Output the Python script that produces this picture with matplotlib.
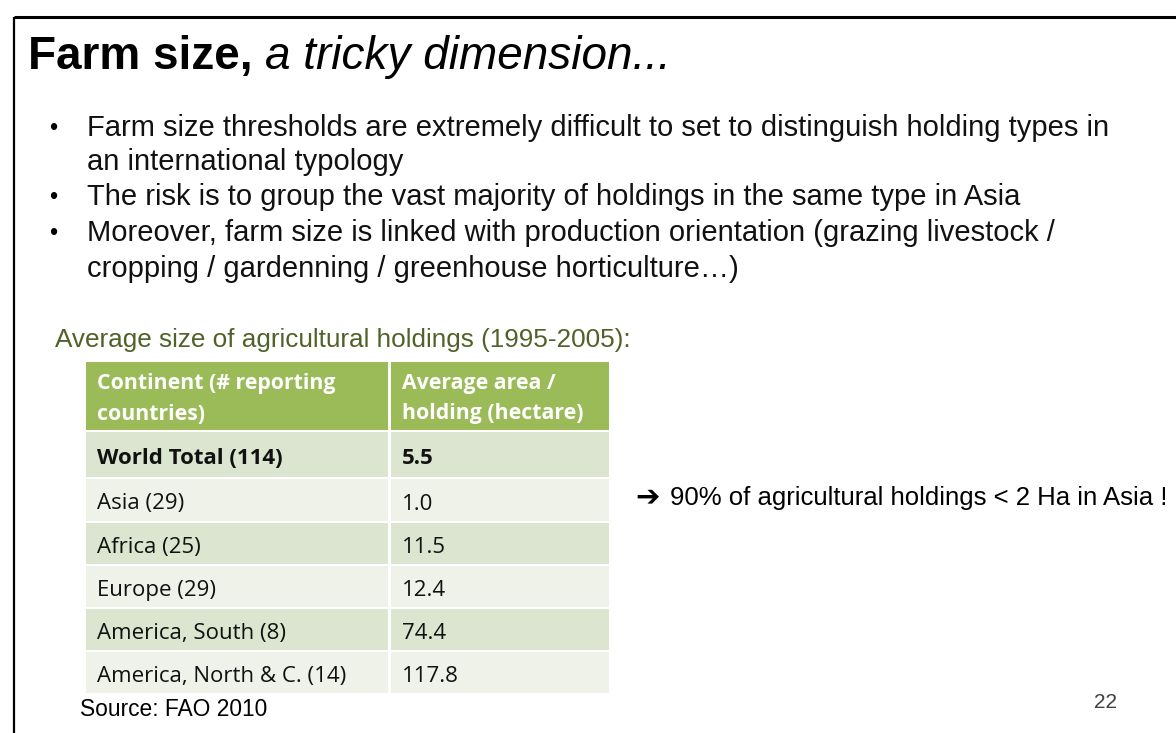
import matplotlib.pyplot as plt
from matplotlib.patches import Rectangle

SANS = ["Liberation Sans", "DejaVu Sans"]
TABLE_FONT = ["Open Sans", "DejaVu Sans"]

HEADER_GREEN = "#9bbb59"
ROW_DARK = "#dbe5cf"
ROW_LIGHT = "#eef2e8"
TITLE_GREEN = "#4f6228"

# Table data
header_left = ["Continent (# reporting", "countries)"]
header_right = ["Average area /", "holding (hectare)"]
continents = ["World Total", "Asia", "Africa", "Europe", "America, South", "America, North & C."]
n_countries = [114, 29, 25, 29, 8, 14]
avg_area = [5.5, 1.0, 11.5, 12.4, 74.4, 117.8]

# bullet text, one entry per rendered line (True = starts a bullet)
bullet_lines = [
    ("Farm size thresholds are extremely difficult to set to distinguish holding types in", True),
    ("an international typology", False),
    ("The risk is to group the vast majority of holdings in the same type in Asia", True),
    ("Moreover, farm size is linked with production orientation (grazing livestock /", True),
    ("cropping / gardenning / greenhouse horticulture\u2026)", False),
]

fig = plt.figure(figsize=(11.76, 7.33), dpi=100)
ax = fig.add_axes([0, 0, 1, 1])
ax.set_xlim(0, 1176)
ax.set_ylim(733, 0)
ax.axis("off")

# slide frame (top and left edges)
ax.plot([14, 1176], [16.5, 16.5], color="black", lw=2.2, solid_capstyle="butt")
ax.plot([14, 14], [16.5, 733], color="black", lw=1.6, solid_capstyle="butt")

# title: bold part then italic part
t1 = ax.text(28, 57, "Farm size, ", fontsize=33, fontweight="bold", family=SANS,
             va="center", ha="left")
fig.canvas.draw()
x_end = t1.get_window_extent().x1
xd = ax.transData.inverted().transform((x_end, 0))[0]
ax.text(xd, 57, "a tricky dimension...", fontsize=33, fontstyle="italic",
        family=SANS, va="center", ha="left")

# bullets
line_y = [128, 162, 197, 233, 269]
for y, (txt, has_bullet) in zip(line_y, bullet_lines):
    if has_bullet:
        ax.text(49, y + 1, "\u2022", fontsize=17, family=SANS, va="center", ha="left")
    ax.text(87, y, txt, fontsize=21, family=SANS, va="center", ha="left",
            color="#111111")

ax.text(55, 340, "Average size of agricultural holdings (1995-2005):", fontsize=18.8,
        family=SANS, color=TITLE_GREEN, va="center", ha="left")

# table header
col_x = [86, 391]
col_w = [302, 218]
for cx, w, lines in zip(col_x, col_w, [header_left, header_right]):
    ax.add_patch(Rectangle((cx, 362), w, 68, color=HEADER_GREEN, lw=0))
    for ly, txt in zip([384, 414], lines):
        ax.text(cx + 11, ly, txt, fontsize=15.3, fontweight="bold", family=TABLE_FONT,
                color="white", va="center", ha="left")

# table body
row_top = [432, 479, 523, 566, 609, 652]
row_bot = [477, 521, 564, 607, 650, 693]
for i, (name, n, val) in enumerate(zip(continents, n_countries, avg_area)):
    fc = ROW_DARK if i % 2 == 0 else ROW_LIGHT
    h = row_bot[i] - row_top[i]
    for cx, w in zip(col_x, col_w):
        ax.add_patch(Rectangle((cx, row_top[i]), w, h, color=fc, lw=0))
    yc = row_top[i] + h / 2 + 4
    weight = "bold" if i == 0 else "normal"
    ax.text(col_x[0] + 11, yc, f"{name} ({n})", fontsize=16, fontweight=weight,
            family=TABLE_FONT, color="#111111", va="center", ha="left")
    ax.text(col_x[1] + 11, yc, f"{val:.1f}", fontsize=16, fontweight=weight,
            family=TABLE_FONT, color="#111111", va="center", ha="left")

ax.text(635, 497, "\u2794", fontsize=21, fontweight="bold", family=["DejaVu Sans"],
        va="center", ha="left")
ax.text(670, 498, "90% of agricultural holdings < 2 Ha in Asia !", fontsize=18.5,
        family=SANS, va="center", ha="left")
ax.text(80, 710, "Source: FAO 2010", fontsize=16.4, family=SANS, va="center", ha="left")
ax.text(1117, 703, "22", fontsize=15, family=SANS, color="#404040", va="center",
        ha="right")

fig.savefig("out.png", dpi=100)
